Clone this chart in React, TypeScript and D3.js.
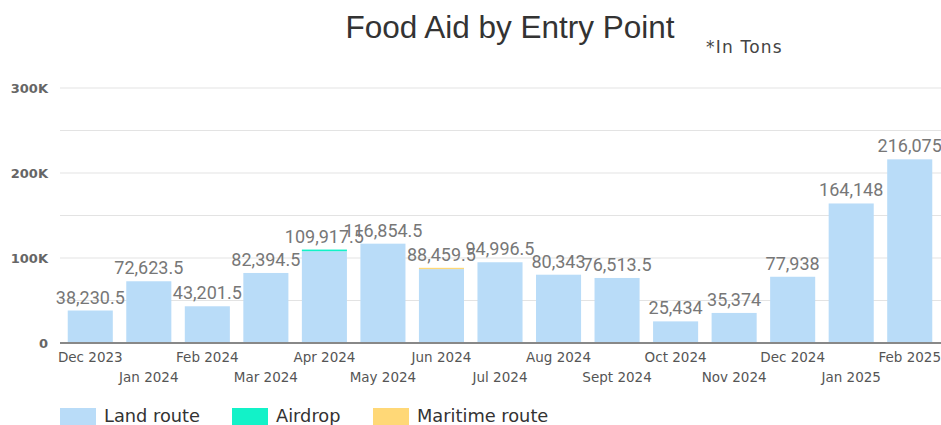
import React from "react";
import * as d3 from "d3";

const categories = ["Dec 2023","Jan 2024","Feb 2024","Mar 2024","Apr 2024","May 2024","Jun 2024","Jul 2024","Aug 2024","Sept 2024","Oct 2024","Nov 2024","Dec 2024","Jan 2025","Feb 2025"];
const landRoute = [38230.5,72623.5,43201.5,82394.5,108000,116854.5,86959.5,94996.5,80343,76513.5,25434,35374,77938,164148,216075];
const airdrop = [0,0,0,0,1917.5,0,0,0,0,0,0,0,0,0,0];
const maritimeRoute = [0,0,0,0,0,0,1500,0,0,0,0,0,0,0,0];
const yTicks = [0,100000,200000,300000];
const gridTicks = [0,50000,100000,150000,200000,250000,300000];
const seriesNames = ["Land route","Airdrop","Maritime route"];
const seriesColors = ["#b9dcf8","#12f2c8","#ffd877"];

const W = 941, H = 425;
const M = { left: 61, right: 2, top: 88, bottom: 82 };

export default function App() {
  const rows = categories.map((c, i) => ({ cat: c, land: landRoute[i], air: airdrop[i], sea: maritimeRoute[i] }));
  const stack = d3.stack<any>().keys(["land","air","sea"])(rows);
  const x = d3.scaleBand().domain(categories).range([M.left, W - M.right]).paddingInner(0.23).paddingOuter(0.115);
  const y = d3.scaleLinear().domain([0, 300000]).range([H - M.bottom, M.top]);
  const fmt = d3.format(",");
  const yFmt = (v: number) => (v === 0 ? "0" : d3.format("~s")(v).toUpperCase());
  const totals = rows.map((r) => r.land + r.air + r.sea);
  const legendX = [60, 232, 373];
  return (
    <div style={{ position: "absolute", left: 0, top: 0 }}>
      <svg width={W} height={H} style={{ display: "block", background: "#fff" }}>
        <text x={510} y={38} textAnchor="middle" fontFamily="Liberation Sans, Arial, sans-serif" fontSize={31.5} fill="#333">Food Aid by Entry Point</text>
        <text x={706} y={53} fontFamily="DejaVu Sans, sans-serif" fontSize={17} letterSpacing={1.2} fill="#444">*In Tons</text>
        {gridTicks.map((t) => (
          <line key={t} x1={60} x2={W} y1={y(t)} y2={y(t)} stroke="#e3e3e3" strokeWidth={1} />
        ))}
        {yTicks.map((t) => (
          <text key={t} x={48} y={y(t) + 4.5} textAnchor="end" fontFamily="DejaVu Sans, sans-serif" fontSize={13} fontWeight={600} fill="#666">{yFmt(t)}</text>
        ))}
        {stack.map((s, si) => (
          <g key={si} fill={seriesColors[si]}>
            {s.map((d: any, i: number) => (
              <rect key={i} x={x(categories[i])} width={x.bandwidth()} y={y(d[1])} height={Math.max(0, y(d[0]) - y(d[1]))} />
            ))}
          </g>
        ))}
        <line x1={60} x2={W} y1={y(0)} y2={y(0)} stroke="#888" strokeWidth={2} />
        {categories.map((c, i) => (
          <text key={c} x={(x(c) as number) + x.bandwidth() / 2} y={i % 2 === 0 ? 362 : 382} textAnchor="middle" fontFamily="DejaVu Sans, sans-serif" fontSize={13.5} fill="#555">{c}</text>
        ))}
        {categories.map((c, i) => (
          <text key={c} x={(x(c) as number) + x.bandwidth() / 2} y={y(totals[i]) - 7} textAnchor="middle" fontFamily="Roboto, sans-serif" fontSize={18} fill="#777">{fmt(totals[i])}</text>
        ))}
        {seriesNames.map((n, i) => (
          <g key={n}>
            <rect x={legendX[i]} y={408} width={36} height={20} fill={seriesColors[i]} />
            <text x={legendX[i] + 44} y={422} fontFamily="DejaVu Sans, sans-serif" fontSize={17.8} fill="#333">{n}</text>
          </g>
        ))}
      </svg>
    </div>
  );
}
